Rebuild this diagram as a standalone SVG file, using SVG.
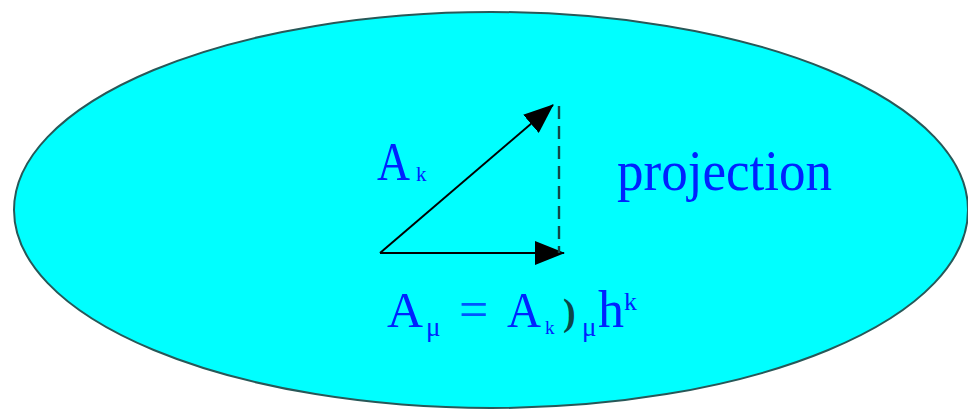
<svg xmlns="http://www.w3.org/2000/svg" width="968" height="409" viewBox="0 0 968 409">
<style>
.lbl{font-family:"Liberation Serif","Times New Roman",serif;fill:#0022ff}
.vec{stroke:#000;stroke-width:2;fill:none}
</style>
<defs>
<marker id="ah" viewBox="0 0 30 24" refX="29" refY="12" markerWidth="30" markerHeight="24" markerUnits="userSpaceOnUse" orient="auto">
<path d="M0,0 L30,12 L0,24 Z" fill="#000"/>
</marker>
</defs>
<rect width="968" height="409" fill="#fff"/>
<g id="space">
<ellipse cx="491" cy="210" rx="477" ry="198" fill="#00ffff" stroke="#285858" stroke-width="2"/>
</g>
<g id="connectors">
<line class="vec" x1="380" y1="253" x2="553" y2="105" marker-end="url(#ah)"/>
<line class="vec" x1="380" y1="253" x2="564" y2="253" marker-end="url(#ah)"/>
<line x1="559" y1="106" x2="559" y2="253" stroke="#104848" stroke-width="2.4" stroke-dasharray="13 7"/>
</g>
<g id="label-Ak">
<text class="lbl"><tspan x="377" y="180" font-size="54" textLength="33" lengthAdjust="spacingAndGlyphs">A</tspan><tspan x="416" y="181" font-size="21">k</tspan></text>
</g>
<g id="label-projection">
<text class="lbl" x="617" y="190" font-size="56" textLength="215" lengthAdjust="spacingAndGlyphs">projection</text>
</g>
<g id="label-equation">
<text class="lbl"><tspan x="387" y="327" font-size="50" textLength="36" lengthAdjust="spacingAndGlyphs">A</tspan><tspan x="426" y="336" font-size="27">μ</tspan><tspan x="459" y="327" font-size="52" fill="#0055ff">=</tspan><tspan x="507" y="327" font-size="50" textLength="34" lengthAdjust="spacingAndGlyphs">A</tspan><tspan x="545" y="334" font-size="19">k</tspan><tspan x="563" y="325" font-size="38" font-weight="bold" fill="#0a4848">)</tspan><tspan x="582" y="336" font-size="27">μ</tspan><tspan x="598" y="327" font-size="52">h</tspan><tspan x="624" y="310" font-size="26">k</tspan></text>
</g>
</svg>
